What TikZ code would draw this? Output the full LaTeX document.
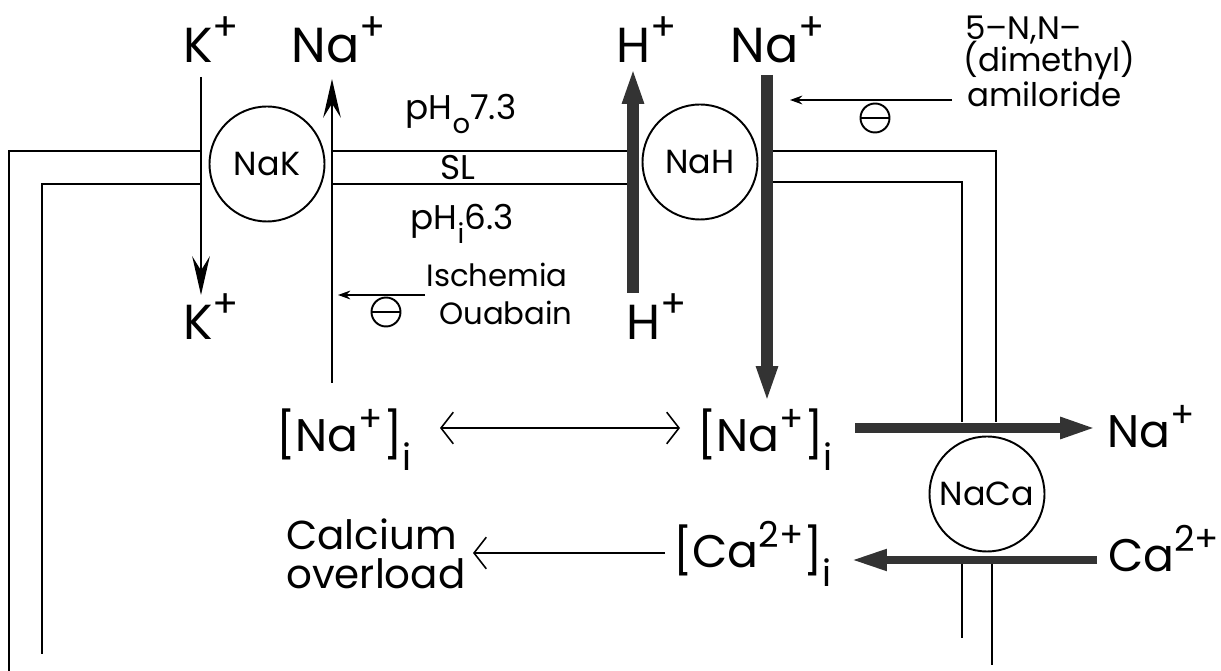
\documentclass[tikz,border=0pt]{standalone}
\usepackage{fontspec}
\setmainfont{Poppins}
\usetikzlibrary{arrows.meta, positioning}

\newcommand{\charge}[1]{\raisebox{.45em}{\scalebox{.78}{#1}}}
\newcommand{\lowidx}[1]{\raisebox{-.4em}{\scalebox{.8}{#1}}}

\begin{document}
\begin{tikzpicture}[
  x=0.02cm, y=-0.02cm,
  ion/.style={inner sep=0pt, font=\fontsize{28}{30}\selectfont},
  conc/.style={inner sep=0pt, font=\fontsize{26}{28}\selectfont},
  note/.style={inner sep=0pt, font=\fontsize{19.5}{21}\selectfont},
  pump/.style={circle, draw, line width=1.1pt, minimum size=2.3cm, inner sep=0pt, font=\fontsize{19}{21}\selectfont},
  blocker/.style={circle, draw, line width=1.1pt, minimum size=0.58cm, inner sep=0pt,
    path picture={\draw[line width=1.1pt] (path picture bounding box.west) -- (path picture bounding box.east);}},
  membrane/.style={line width=1.1pt},
  carrier/.style={line width=1.6pt, -{Stealth[length=22pt, width=10pt, inset=8pt]}},
  flux/.style={line width=6.5pt, draw=black!80, -{Triangle[length=21pt, width=11pt]}},
  inhib/.style={line width=1pt, -{Stealth[length=7pt, width=5pt]}},
  exch/.style={line width=0.9pt, {Straight Barb[length=7pt, width=18pt]}-{Straight Barb[length=7pt, width=18pt]}},
  overload/.style={line width=0.9pt, -{Straight Barb[length=7pt, width=18pt]}},
]
\useasboundingbox (0,0) rectangle (1221,671);

% Membrane (sarcolemma)
\draw[membrane] (201,151) -| (9,671);
\draw[membrane] (201,184) -| (42,654);
\draw[membrane] (332,151) -- (633,151);
\draw[membrane] (332,184) -- (633,184);
\draw[membrane] (767,151) -| (996,422);
\draw[membrane] (770,182) -| (962,422);
\draw[membrane] (962,560) -- (962,638);
\draw[membrane] (992,560) -- (992,665);

% Pumps
\node[pump] (nak) at (267,164) {NaK};
\node[pump] (nah) at (700,162) {NaH};
\node[pump] (naca) at (987,494) {NaCa};

% Ions outside / inside
\node[ion, anchor=base] (kout) at (211,63) {K\charge{+}};
\node[ion, anchor=base] (kin) at (211,340) {K\charge{+}};
\node[ion, anchor=base] (naout) at (339,63) {Na\charge{+}};
\node[ion, anchor=base] (hout) at (647,63) {H\charge{+}};
\node[ion, anchor=base] (hin) at (657,340) {H\charge{+}};
\node[ion, anchor=base] (naext) at (778,63) {Na\charge{+}};
\node[conc, anchor=base west] (naleft) at (276,452) {[Na\charge{+}]\lowidx{i}};
\node[conc, anchor=base west] (naright) at (697,452) {[Na\charge{+}]\lowidx{i}};
\node[conc, anchor=base west] (caint) at (673,568) {[Ca\charge{2+}]\lowidx{i}};
\node[conc, anchor=base west] (naexit) at (1107,448) {Na\charge{+}};
\node[conc, anchor=base west] (caentry) at (1108,572) {Ca\charge{2+}};

% Texts
\node[note, anchor=base] (pho) at (461,120) {pH\lowidx{o}7.3};
\node[note, anchor=base] (sl) at (458,180) {SL};
\node[note, anchor=base] (phi) at (462,230) {pH\lowidx{i}6.3};
\node[note, anchor=base east, font=\fontsize{17.5}{19}\selectfont] (isch) at (568,287) {Ischemia};
\node[note, anchor=base east, font=\fontsize{17.5}{19}\selectfont] (ouab) at (573,325) {Ouabain};
\node[blocker] (minusA) at (386,312) {};
\node[note, anchor=base west, font=\fontsize{18.5}{19}\selectfont] (drugA) at (965,40) {5--N,N--};
\node[note, anchor=base west, font=\fontsize{18.5}{19}\selectfont] (drugB) at (963,72) {(dimethyl)};
\node[note, anchor=base west, font=\fontsize{18.5}{19}\selectfont] (drugC) at (967,107) {amiloride};
\node[blocker] (minusB) at (875,118) {};
\node[note, anchor=base west, font=\fontsize{23}{25}\selectfont] (calc) at (286,550) {Calcium};
\node[note, anchor=base west, font=\fontsize{23}{25}\selectfont] (over) at (286,589) {overload};

% Arrow ends
\coordinate (kA) at (201,77);   \coordinate (kB) at (201,295);
\coordinate (nA) at (332,383);  \coordinate (nB) at (332,79);
\coordinate (hA) at (633,293);  \coordinate (hB) at (633,67);
\coordinate (xA) at (767,75);   \coordinate (xB) at (767,403);
\coordinate (eA) at (855,428);  \coordinate (eB) at (1097,428);
\coordinate (cA) at (1097,560); \coordinate (cB) at (850,560);
\coordinate (iA) at (425,295);  \coordinate (iB) at (338,295);
\coordinate (dA) at (952,100);  \coordinate (dB) at (790,100);
\coordinate (sA) at (440,428);  \coordinate (sB) at (680,428);
\coordinate (oA) at (665,553);  \coordinate (oB) at (473,553);

\draw[carrier] (kA) -- (kB);
\draw[carrier] (nA) -- (nB);
\draw[flux] (hA) -- (hB);
\draw[flux] (xA) -- (xB);
\draw[flux, line width=5.5pt] (eA) -- (eB);
\draw[flux, line width=5pt] (cA) -- (cB);
\draw[inhib] (iA) -- (iB);
\draw[inhib] (dA) -- (dB);
\draw[exch] (sA) -- (sB);
\draw[overload] (oA) -- (oB);

\end{tikzpicture}
\end{document}
